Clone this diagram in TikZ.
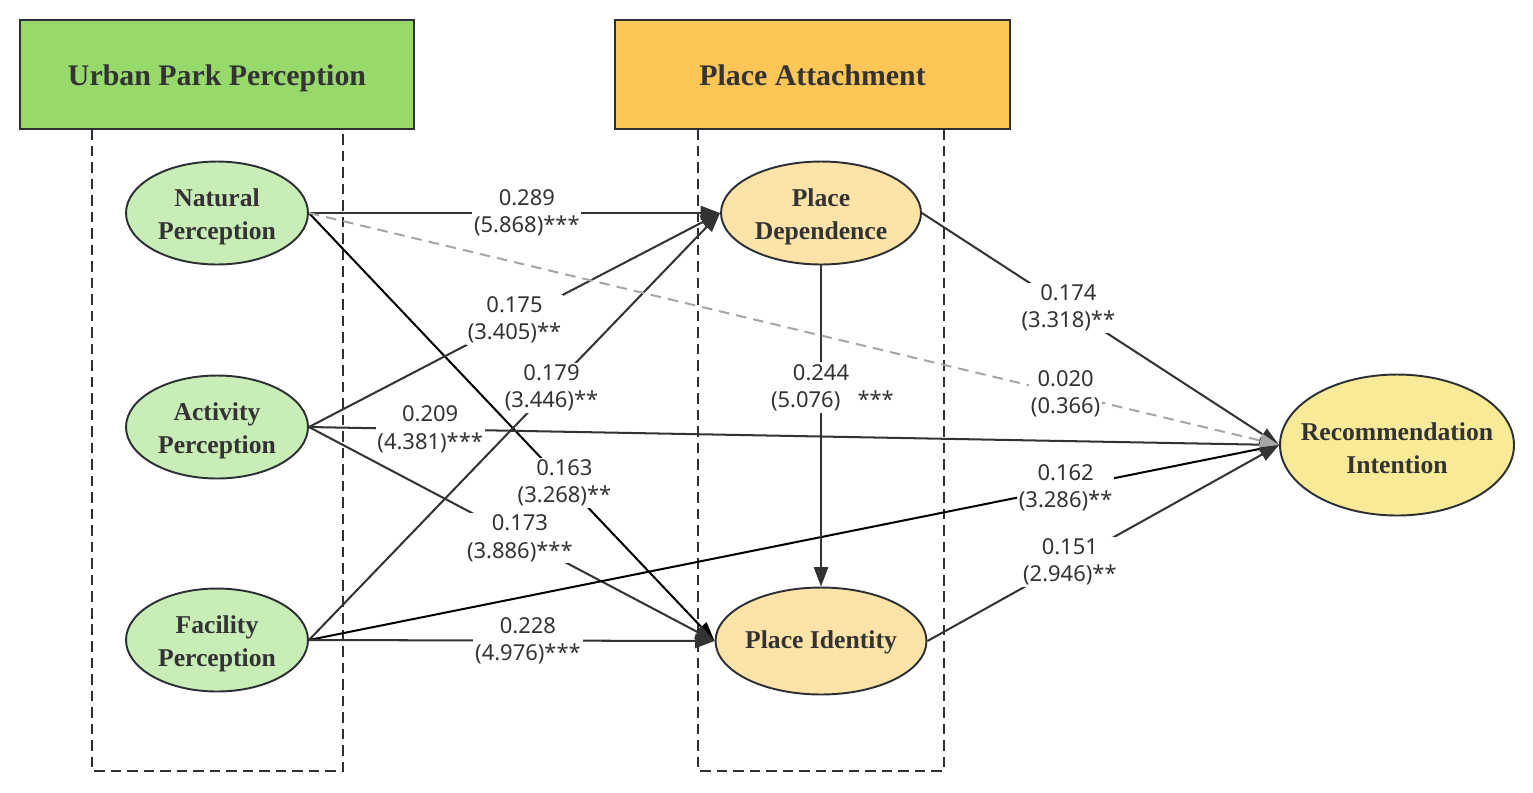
\documentclass[tikz,border=0pt]{standalone}
\usepackage{fontspec}
\setmainfont{Liberation Serif}
\newfontfamily\coeffont{Noto Sans}
\usetikzlibrary{arrows.meta}
\usetikzlibrary{shapes.geometric}

\definecolor{inkgray}{HTML}{333333}
\definecolor{rimgray}{HTML}{2C3035}
\definecolor{parkgreen}{HTML}{97DA6B}
\definecolor{attachorange}{HTML}{FDC656}
\definecolor{perceptgreen}{HTML}{C9EDB7}
\definecolor{attachlight}{HTML}{FDE3A8}
\definecolor{intentyellow}{HTML}{F8EA96}
\definecolor{nsgray}{HTML}{A6A6A6}

\tikzset{
  header/.style={draw=rimgray,line width=1.2pt,rectangle,minimum width=7.88cm,minimum height=2.18cm,
    text height=13pt,text depth=0pt,text=inkgray,font=\fontsize{17}{20}\selectfont\bfseries},
  frame/.style={draw=rimgray,line width=1.2pt,dash pattern=on 6pt off 3.4pt},
  latent/.style={draw=rimgray,line width=1.1pt,ellipse,inner sep=0pt},
  latentlab/.style={text=inkgray,align=center,yshift=-2pt,font=\fontsize{14.6}{18.7}\selectfont\bfseries},
  conn/.style={line width=1.15pt,color=inkgray},
  coef/.style={fill=white,inner sep=1pt,align=center,text=inkgray,font=\coeffont\fontsize{12.5}{15.5}\selectfont}
}

\begin{document}
\begin{tikzpicture}[x=0.02cm,y=-0.02cm,>={Triangle[length=11pt,width=8pt]}]

  \useasboundingbox (0,0) rectangle (1533,792);

  % group frames
  \draw [frame] (92,129) -- (92,771) -- (343,771) -- (343,129);
  \draw [frame] (698,129) -- (698,771) -- (944,771) -- (944,129);

  \node [header,fill=parkgreen] (UPP) at (217,74.5) {Urban Park Perception};
  \node [header,fill=attachorange,minimum width=7.9cm] (PA) at (812.5,74.5) {Place Attachment};

  % latent variables
  \node [latent,fill=perceptgreen,minimum width=3.64cm,minimum height=2.06cm,
    label={[latentlab]center:Natural\\Perception}] (NP) at (217,213) {};
  \node [latent,fill=perceptgreen,minimum width=3.64cm,minimum height=2.06cm,
    label={[latentlab]center:Activity\\Perception}] (AP) at (217,427) {};
  \node [latent,fill=perceptgreen,minimum width=3.64cm,minimum height=2.06cm,
    label={[latentlab]center:Facility\\Perception}] (FP) at (217,640) {};

  \node [latent,fill=attachlight,minimum width=4.0cm,minimum height=2.06cm,
    label={[latentlab]center:Place\\Dependence}] (PD) at (821,213) {};
  \node [latent,fill=attachlight,minimum width=4.22cm,minimum height=2.14cm,
    label={[latentlab,yshift=1pt]center:Place Identity}] (PI) at (821,641) {};

  \node [latent,fill=intentyellow,minimum width=4.68cm,minimum height=2.82cm,
    label={[latentlab]center:Recommendation\\Intention}] (RI) at (1397,445) {};

  % paths
  \path [conn,->]
    (NP.east) edge node[coef,pos=0.53] {0.289\\(5.868)***} (PD.west)
    (NP.east) edge [color=black] node[coef,pos=0.63] {0.163\\(3.268)**} (PI.west)
    (AP.east) edge node[coef,pos=0.5] {0.175\\(3.405)**} (PD.west)
    (AP.east) edge node[coef,pos=0.125] {0.209\\(4.381)***} (RI.west)
    (AP.east) edge node[coef,pos=0.52] {0.173\\(3.886)***} (PI.west)
    (FP.east) edge node[coef,pos=0.59] {0.179\\(3.446)**} (PD.west)
    (FP.east) edge [color=black] node[coef,pos=0.78] {0.162\\(3.286)**} (RI.west)
    (FP.east) edge node[coef,pos=0.54] {0.228\\(4.976)***} (PI.west)
    (PD.east) edge node[coef,pos=0.41] {0.174\\(3.318)**} (RI.west)
    (PD.south) edge node[coef,pos=0.38] {0.244\\\ \ \ \ (5.076)\ \ \ ***} (PI.north)
    (PI.east) edge node[coef,pos=0.405] {0.151\\(2.946)**} (RI.west);

  \path [conn,->,color=nsgray,dash pattern=on 6pt off 4pt]
    (NP.east) edge node[coef,pos=0.78] {0.020\\(0.366)} (RI.west);

\end{tikzpicture}
\end{document}
